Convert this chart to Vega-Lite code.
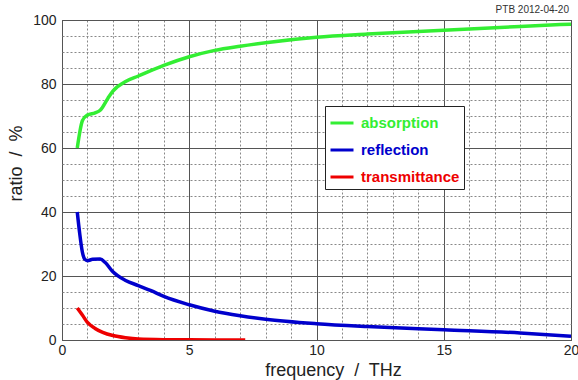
{
  "$schema": "https://vega.github.io/schema/vega-lite/v6.json",
  "width": 509,
  "height": 320,
  "autosize": {"type": "none"},
  "padding": {"left": 62, "top": 20, "right": 7, "bottom": 40},
  "background": "white",
  "config": {
    "font": "Liberation Sans",
    "view": {"stroke": "#333333", "strokeWidth": 1}
  },
  "title": {
    "text": "PTB 2012-04-20",
    "anchor": "end",
    "frame": "group",
    "fontSize": 10,
    "fontWeight": "normal",
    "color": "#333333",
    "offset": 5,
    "dy": 7,
    "dx": -2
  },
  "data": {
    "values": [
      {"f": 0.6, "ratio": 60, "series": "absorption"},
      {"f": 0.7, "ratio": 65, "series": "absorption"},
      {"f": 0.8, "ratio": 68.5, "series": "absorption"},
      {"f": 1.0, "ratio": 70.3, "series": "absorption"},
      {"f": 1.3, "ratio": 71, "series": "absorption"},
      {"f": 1.5, "ratio": 71.8, "series": "absorption"},
      {"f": 1.8, "ratio": 75.5, "series": "absorption"},
      {"f": 2.0, "ratio": 77.8, "series": "absorption"},
      {"f": 2.5, "ratio": 80.8, "series": "absorption"},
      {"f": 3.0, "ratio": 82.5, "series": "absorption"},
      {"f": 4.0, "ratio": 85.8, "series": "absorption"},
      {"f": 5.0, "ratio": 88.5, "series": "absorption"},
      {"f": 6.0, "ratio": 90.5, "series": "absorption"},
      {"f": 7.0, "ratio": 91.8, "series": "absorption"},
      {"f": 8.0, "ratio": 92.9, "series": "absorption"},
      {"f": 10.0, "ratio": 94.6, "series": "absorption"},
      {"f": 12.0, "ratio": 95.6, "series": "absorption"},
      {"f": 15.0, "ratio": 96.8, "series": "absorption"},
      {"f": 18.0, "ratio": 98, "series": "absorption"},
      {"f": 20.0, "ratio": 98.7, "series": "absorption"},
      {"f": 0.6, "ratio": 40, "series": "reflection"},
      {"f": 0.7, "ratio": 33, "series": "reflection"},
      {"f": 0.8, "ratio": 27.5, "series": "reflection"},
      {"f": 0.9, "ratio": 25.2, "series": "reflection"},
      {"f": 1.0, "ratio": 24.8, "series": "reflection"},
      {"f": 1.2, "ratio": 25.2, "series": "reflection"},
      {"f": 1.5, "ratio": 25.3, "series": "reflection"},
      {"f": 1.7, "ratio": 24.2, "series": "reflection"},
      {"f": 2.0, "ratio": 21.3, "series": "reflection"},
      {"f": 2.5, "ratio": 18.6, "series": "reflection"},
      {"f": 3.0, "ratio": 17, "series": "reflection"},
      {"f": 3.5, "ratio": 15.4, "series": "reflection"},
      {"f": 4.0, "ratio": 13.6, "series": "reflection"},
      {"f": 5.0, "ratio": 11, "series": "reflection"},
      {"f": 6.0, "ratio": 9, "series": "reflection"},
      {"f": 7.0, "ratio": 7.6, "series": "reflection"},
      {"f": 8.0, "ratio": 6.5, "series": "reflection"},
      {"f": 10.0, "ratio": 5.1, "series": "reflection"},
      {"f": 12.0, "ratio": 4.2, "series": "reflection"},
      {"f": 15.0, "ratio": 3.2, "series": "reflection"},
      {"f": 18.0, "ratio": 2.2, "series": "reflection"},
      {"f": 20.0, "ratio": 1.2, "series": "reflection"},
      {"f": 0.6, "ratio": 10, "series": "transmittance"},
      {"f": 0.8, "ratio": 7.8, "series": "transmittance"},
      {"f": 1.0, "ratio": 5.5, "series": "transmittance"},
      {"f": 1.3, "ratio": 3.6, "series": "transmittance"},
      {"f": 1.6, "ratio": 2.4, "series": "transmittance"},
      {"f": 2.0, "ratio": 1.4, "series": "transmittance"},
      {"f": 2.5, "ratio": 0.7, "series": "transmittance"},
      {"f": 3.0, "ratio": 0.3, "series": "transmittance"},
      {"f": 4.0, "ratio": 0.1, "series": "transmittance"},
      {"f": 5.0, "ratio": 0.05, "series": "transmittance"},
      {"f": 7.2, "ratio": 0.0, "series": "transmittance"}
    ]
  },
  "mark": {"type": "line", "strokeWidth": 3.5, "interpolate": "monotone", "clip": true},
  "encoding": {
    "x": {
      "field": "f",
      "type": "quantitative",
      "scale": {"domain": [0, 20], "nice": false},
      "axis": {
        "title": "frequency \u00a0/\u00a0 THz",
        "titleFontSize": 18,
        "titleFontWeight": "normal",
        "titleColor": "#222222",
        "titlePadding": 4,
        "titleX": 271,
        "titleAlign": "center",
        "values": [0,1,2,3,4,5,6,7,8,9,10,11,12,13,14,15,16,17,18,19,20],
        "labelExpr": "datum.value % 5 === 0 ? datum.label : ''",
        "labelFontSize": 14,
        "labelColor": "#222222",
        "labelPadding": 3,
        "labelFlush": false,
        "ticks": false,
        "domain": false,
        "grid": true,
        "gridColor": {"condition": {"test": "datum.value % 5 === 0", "value": "#555555"}, "value": "#888888"},
        "gridDash": {"condition": {"test": "datum.value % 5 === 0", "value": []}, "value": [2, 2]},
        "gridOpacity": 1
      }
    },
    "y": {
      "field": "ratio",
      "type": "quantitative",
      "scale": {"domain": [0, 100], "nice": false},
      "axis": {
        "title": "ratio \u00a0/\u00a0 %",
        "titleFontSize": 18,
        "titleFontWeight": "normal",
        "titleColor": "#222222",
        "titlePadding": 7,
        "titleY": 143,
        "titleAlign": "center",
        "values": [0,5,10,15,20,25,30,35,40,45,50,55,60,65,70,75,80,85,90,95,100],
        "labelExpr": "datum.value % 20 === 0 ? datum.label : ''",
        "labelFontSize": 14,
        "labelColor": "#222222",
        "labelPadding": 6,
        "labelFlush": false,
        "ticks": false,
        "domain": false,
        "grid": true,
        "gridColor": {"condition": {"test": "datum.value % 20 === 0", "value": "#555555"}, "value": "#888888"},
        "gridDash": {"condition": {"test": "datum.value % 20 === 0", "value": []}, "value": [2, 2]},
        "gridOpacity": 1
      }
    },
    "color": {
      "field": "series",
      "type": "nominal",
      "scale": {
        "domain": ["absorption", "reflection", "transmittance"],
        "range": ["#33ee33", "#0000cc", "#ee0000"]
      },
      "legend": {
        "title": null,
        "orient": "none",
        "legendX": 263,
        "legendY": 86,
        "fillColor": "white",
        "strokeColor": "#222222",
        "padding": 4,
        "symbolType": "stroke",
        "symbolStrokeWidth": 3,
        "symbolSize": 529,
        "labelFontSize": 15,
        "labelFontWeight": "bold",
        "labelExpr": "datum.label + '\u00a0\u00a0'",
        "rowPadding": 6,
        "labelOffset": 6,
        "encode": {
          "labels": {"update": {"fill": {"scale": "color", "field": "value"}}}
        }
      }
    }
  }
}
